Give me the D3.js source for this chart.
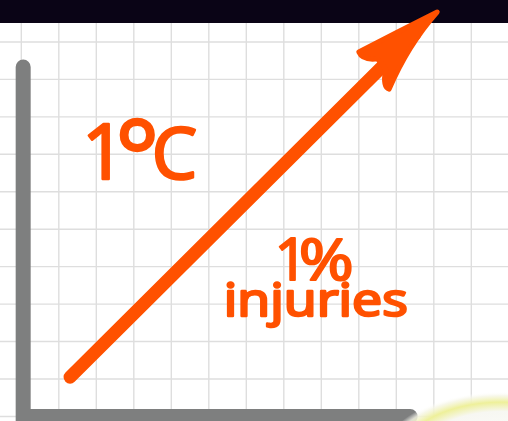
<!DOCTYPE html>
<html>
<head>
<meta charset="utf-8">
<script src="https://cdn.jsdelivr.net/npm/d3@7"></script>
<style>
  html, body { margin: 0; padding: 0; background: #fff; }
  .canvas { width: 508px; height: 421px; overflow: hidden; }
</style>
</head>
<body>
<div class="canvas"></div>
<script>
// grid in "cell" units
const gridCols = [0, 1, 2, 3, 4, 5, 6, 7, 8, 9, 10, 11, 12, 13];
const gridRows = [0, 1, 2, 3, 4, 5, 6, 7, 8, 9, 10, 11];

// axes (cell units)
const axisX = 0.05;
const axisTop = 1.67;
const axisBottom = 11.0;
const axisRight = 10.37;

// the rising arrow: start -> tip
const arrowStart = [1.3, 9.95];
const arrowTip = [11.09, 0.2];
const arrowWingLeft = [9.0, 1.27];
const arrowWingLow = [9.81, 2.26];

const labelTemp = ["1", "°", "C"];
const labelPct = ["1", "%"];
const labelWord = "injuries";

const orange = "#ff5100";

function setup() {
  const canvas = document.querySelector(".canvas");
  const width = canvas.offsetWidth;
  const height = canvas.offsetHeight;
  const cell = 37.5;

  const x = d3.scaleLinear().domain([0, 1]).range([21.3, 21.3 + cell]);
  const y = d3.scaleLinear().domain([0, 1]).range([4.5, 4.5 + 37.45]);

  const svg = d3
    .select(".canvas")
    .append("svg")
    .attr("width", width)
    .attr("height", height);

  const defs = svg.append("defs");
  const glow = defs
    .append("radialGradient")
    .attr("id", "glow")
    .attr("cx", "50%")
    .attr("cy", "50%")
    .attr("r", "50%");
  glow.append("stop").attr("offset", "0%").attr("stop-color", "#ffffff");
  glow.append("stop").attr("offset", "70%").attr("stop-color", "#f7f7f2");
  glow.append("stop").attr("offset", "84%").attr("stop-color", "#eef09a");
  glow.append("stop").attr("offset", "94%").attr("stop-color", "#f6f6e6").attr("stop-opacity", 0.8);
  glow.append("stop").attr("offset", "100%").attr("stop-color", "#ffffff").attr("stop-opacity", 0);

  svg.append("rect").attr("width", width).attr("height", height).attr("fill", "#fff");

  // grid
  svg
    .append("g")
    .selectAll("line")
    .data(gridCols)
    .enter()
    .append("line")
    .attr("x1", (d) => x(d))
    .attr("x2", (d) => x(d))
    .attr("y1", 0)
    .attr("y2", height)
    .attr("stroke", "#dedede")
    .attr("stroke-width", 1.4);
  svg
    .append("g")
    .selectAll("line")
    .data(gridRows)
    .enter()
    .append("line")
    .attr("y1", (d) => y(d))
    .attr("y2", (d) => y(d))
    .attr("x1", 0)
    .attr("x2", width)
    .attr("stroke", "#dedede")
    .attr("stroke-width", 1.4);

  // top bar
  svg.append("rect").attr("width", width).attr("height", 23).attr("fill", "#0a0416");

  // axes
  svg
    .append("path")
    .attr("d", d3.line()([
      [x(axisX), y(axisTop)],
      [x(axisX), y(axisBottom)],
      [x(axisRight), y(axisBottom)],
    ]))
    .attr("fill", "none")
    .attr("stroke", "#7e7f7f")
    .attr("stroke-width", 15)
    .attr("stroke-linecap", "round");

  // glow blob bottom right
  svg
    .append("ellipse")
    .attr("cx", x(12.8))
    .attr("cy", y(12.1))
    .attr("rx", 120)
    .attr("ry", 66)
    .attr("fill", "url(#glow)");

  // arrow shaft
  const shaftEnd = [arrowTip[0] - 0.6, arrowTip[1] + 0.6];
  svg
    .append("line")
    .attr("x1", x(arrowStart[0]))
    .attr("y1", y(arrowStart[1]))
    .attr("x2", x(shaftEnd[0]))
    .attr("y2", y(shaftEnd[1]))
    .attr("stroke", orange)
    .attr("stroke-width", 13)
    .attr("stroke-linecap", "round");

  // arrow head
  const p = d3.path();
  p.moveTo(x(arrowTip[0]), y(arrowTip[1]));
  p.quadraticCurveTo(x(10.05), y(0.72), x(arrowWingLeft[0]), y(arrowWingLeft[1]));
  p.quadraticCurveTo(x(9.1), y(1.5), x(9.5), y(1.45));
  p.lineTo(x(9.72), y(1.72));
  p.quadraticCurveTo(x(9.62), y(2.2), x(arrowWingLow[0]), y(arrowWingLow[1]));
  p.quadraticCurveTo(x(10.3), y(1.1), x(arrowTip[0]), y(arrowTip[1]));
  p.closePath();
  svg
    .append("path")
    .attr("d", p.toString())
    .attr("fill", orange)
    .attr("stroke", orange)
    .attr("stroke-width", 5)
    .attr("stroke-linejoin", "round");

  const hand = (sel) =>
    sel
      .attr("font-family", "'Open Sans', sans-serif")
      .attr("fill", orange)
      .attr("stroke", orange)
      .attr("stroke-linejoin", "round")
      .attr("stroke-linecap", "round");

  // 1°C
  const t1 = svg.append("text").call(hand).attr("stroke-width", 2.5);
  const t1x = [x(1.62), x(2.5), x(3.48)];
  const t1y = [y(4.67), y(5.1), y(4.67)];
  const t1s = [76, 104, 72];
  t1.selectAll("tspan")
    .data(labelTemp)
    .enter()
    .append("tspan")
    .attr("x", (d, i) => t1x[i])
    .attr("y", (d, i) => t1y[i])
    .attr("font-size", (d, i) => t1s[i])
    .text((d) => d);

  // 1%
  const t2 = svg.append("text").call(hand).attr("stroke-width", 2);
  const t2x = [x(6.75), x(7.4)];
  const t2s = [58, 56];
  const t2w = [null, 55];
  t2.selectAll("tspan")
    .data(labelPct)
    .enter()
    .append("tspan")
    .attr("x", (d, i) => t2x[i])
    .attr("y", y(7.36))
    .attr("font-size", (d, i) => t2s[i])
    .attr("textLength", (d, i) => t2w[i])
    .attr("lengthAdjust", "spacingAndGlyphs")
    .text((d) => d);

  // injuries
  svg
    .append("text")
    .call(hand)
    .attr("x", x(5.4))
    .attr("y", y(8.31))
    .attr("font-size", 46)
    .attr("stroke-width", 2.5)
    .attr("textLength", 184)
    .attr("lengthAdjust", "spacingAndGlyphs")
    .text(labelWord);
}

setup();
</script>
</body>
</html>
